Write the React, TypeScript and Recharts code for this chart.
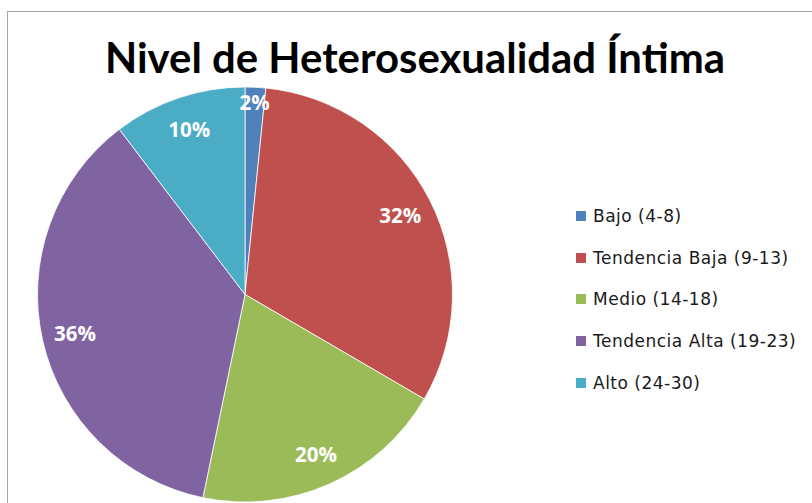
import React from 'react';
import { PieChart, Pie, Cell, Legend } from 'recharts';

const categories = [
  'Bajo (4-8)',
  'Tendencia Baja (9-13)',
  'Medio (14-18)',
  'Tendencia Alta (19-23)',
  'Alto (24-30)',
];
const values = [1.6, 31.8, 19.85, 36.4, 10.35];
const colors = ['#4F81BD', '#C0504D', '#9BBB59', '#8064A2', '#4BACC6'];
const title = 'Nivel de Heterosexualidad Íntima';

const data = categories.map((name, i) => ({ name, value: values[i] }));

const RAD = Math.PI / 180;

const renderLabel = (props: any) => {
  const { cx, cy, midAngle, outerRadius, percent } = props;
  const r = outerRadius * (percent < 0.05 ? 0.93 : 0.84);
  const x = cx + r * Math.cos(-midAngle * RAD);
  const y = cy + r * Math.sin(-midAngle * RAD);
  return (
    <text
      x={x}
      y={y}
      fill="#fff"
      textAnchor="middle"
      dominantBaseline="central"
      style={{ fontFamily: 'Open Sans', fontWeight: 700, fontSize: 20.5 }}
    >
      {`${Math.round(percent * 100)}%`}
    </text>
  );
};

const LegendContent = () => (
  <div style={{ fontFamily: 'DejaVu Sans', fontSize: 17, letterSpacing: 0.5, color: '#1a1a1a' }}>
    {categories.map((c, i) => (
      <div key={c} style={{ display: 'flex', alignItems: 'center', height: 41.6 }}>
        <span style={{ width: 10, height: 10, background: colors[i], display: 'inline-block', marginRight: 7, flexShrink: 0 }} />
        <span style={{ whiteSpace: 'nowrap' }}>{c}</span>
      </div>
    ))}
  </div>
);

export default function App() {
  return (
    <div style={{ position: 'absolute', left: 0, top: 0, width: 812, height: 503, background: '#fff', overflow: 'hidden' }}>
      <div
        style={{
          position: 'absolute',
          left: 7,
          top: 11,
          width: 830,
          height: 530,
          border: '1.5px solid #a6a6a6',
          boxSizing: 'border-box',
        }}
      />
      <div style={{ position: 'absolute', left: 0, top: 0 }}>
        <PieChart width={812} height={503} margin={{ top: 0, right: 0, bottom: 0, left: 0 }}>
          <text
            x={415}
            y={73}
            textAnchor="middle"
            textLength={620}
            lengthAdjust="spacingAndGlyphs"
            style={{ fontFamily: 'Lato', fontWeight: 700, fontSize: 42, fill: '#000' }}
          >
            {title}
          </text>
          <Pie
            data={data}
            dataKey="value"
            nameKey="name"
            cx={245}
            cy={294.5}
            outerRadius={207.5}
            startAngle={90}
            endAngle={-270}
            stroke="#ffffff"
            strokeWidth={0.8}
            label={renderLabel}
            labelLine={false}
            isAnimationActive={false}
          >
            {data.map((d, i) => (
              <Cell key={d.name} fill={colors[i]} />
            ))}
          </Pie>
          <Legend
            layout="vertical"
            content={<LegendContent />}
            wrapperStyle={{ position: 'absolute', left: 576, top: 195.5, width: 240 }}
          />
        </PieChart>
      </div>
    </div>
  );
}
